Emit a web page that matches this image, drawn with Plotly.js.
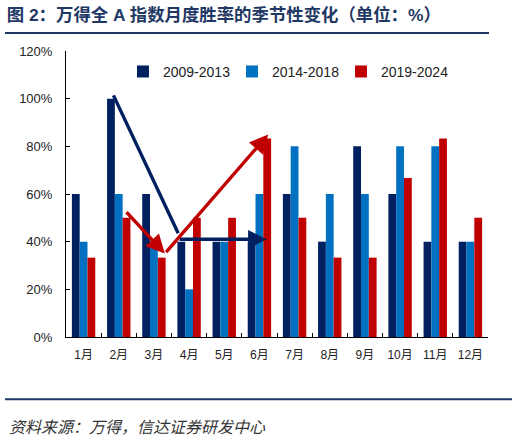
<!DOCTYPE html>
<html>
<head>
<meta charset="utf-8">
<script src="https://cdn.plot.ly/plotly-3.0.1.min.js"></script>
<style>
  html, body { margin: 0; padding: 0; background: #fff; }
  #myDiv { width: 518px; height: 440px; }
</style>
</head>
<body>
<div id="myDiv"></div>
<script>
// 月份
var months = ["1月", "2月", "3月", "4月", "5月", "6月", "7月", "8月", "9月", "10月", "11月", "12月"];

// 各时段月度胜率 (%)
var p2009 = [60, 100, 60, 40, 40, 40, 60, 40, 80, 60, 40, 40];
var p2014 = [40, 60, 40, 20, 40, 60, 80, 60, 60, 80, 80, 40];
var p2019 = [33.3, 50, 33.3, 50, 50, 83.3, 50, 33.3, 33.3, 66.7, 83.3, 50];

var seriesNames = ["2009-2013", "2014-2018", "2019-2024"];
var seriesColors = ["#002060", "#0070C0", "#C00000"];

var FONT = "Liberation Sans, Arial, Noto Sans CJK SC, sans-serif";

var data = [p2009, p2014, p2019].map(function (vals, i) {
  return {
    type: "bar",
    x: months,
    y: vals,
    name: seriesNames[i],
    marker: { color: seriesColors[i] },
    hoverinfo: "skip"
  };
});

// 箭头: [尾x, 尾y, 头x, 头y, 颜色, 是否有箭头]  (x 为类别序号)
var arrows = [
  [0.83, 102, 2.69, 43.5, "#002060", 0],
  [2.69, 41, 5.21, 41, "#002060", 2],
  [1.18, 53, 2.31, 35, "#C00000", 2],
  [2.31, 35, 5.25, 85, "#C00000", 2]
];

var annotations = arrows.map(function (a) {
  return {
    xref: "x", yref: "y", axref: "x", ayref: "y",
    ax: a[0], ay: a[1], x: a[2], y: a[3],
    text: "", showarrow: true,
    arrowcolor: a[4], arrowwidth: 3.4,
    arrowhead: a[5], arrowsize: 1.1
  };
});

annotations.push({
  xref: "paper", yref: "paper",
  x: -0.14, y: -0.315, xanchor: "left", yanchor: "middle",
  text: "<i>资料来源：万得，信达证券研发中心</i>",
  showarrow: false,
  font: { family: FONT, size: 16, color: "#333" }
});

var layout = {
  width: 518,
  height: 440,
  margin: { l: 66, r: 30, t: 51, b: 103 },
  paper_bgcolor: "#fff",
  plot_bgcolor: "#fff",
  font: { family: FONT, size: 13, color: "#222" },
  title: {
    text: "<b>图 2：万得全 A 指数月度胜率的季节性变化（单位：%）</b>",
    x: 0.013, xanchor: "left",
    y: 0.966, yanchor: "middle",
    font: { family: FONT, size: 17.4, color: "#1F3864" }
  },
  barmode: "group",
  bargap: 0.335,
  bargroupgap: 0,
  showlegend: true,
  legend: {
    orientation: "h",
    x: 0.135, y: 0.927, xanchor: "left", yanchor: "middle",
    entrywidthmode: "pixels", entrywidth: 64,
    font: { family: FONT, size: 14, color: "#222" },
    bgcolor: "rgba(0,0,0,0)",
    traceorder: "normal"
  },
  xaxis: {
    type: "category",
    showline: true, linecolor: "#000", linewidth: 1,
    ticks: "inside", tickson: "boundaries", ticklen: 4, tickcolor: "#000",
    showgrid: false, zeroline: false,
    ticklabelstandoff: 7,
    tickfont: { family: FONT, size: 12, color: "#222" }
  },
  yaxis: {
    range: [0, 120], dtick: 20, ticksuffix: "%",
    showline: true, linecolor: "#000", linewidth: 1,
    ticks: "inside", ticklen: 4, tickcolor: "#000",
    showgrid: false, zeroline: false,
    ticklabelstandoff: 10,
    tickfont: { family: FONT, size: 13, color: "#222" }
  },
  shapes: [
    { type: "line", xref: "paper", yref: "paper", x0: -0.1445, x1: 1.0024, y0: 1.063, y1: 1.063,
      line: { color: "#1F3864", width: 2 } },
    { type: "line", xref: "paper", yref: "paper", x0: -0.1445, x1: 1.0569, y0: -0.218, y1: -0.218,
      line: { color: "#1F3864", width: 2 } }
  ],
  annotations: annotations
};

Plotly.newPlot("myDiv", data, layout, { displayModeBar: false, staticPlot: true });
</script>
</body>
</html>
